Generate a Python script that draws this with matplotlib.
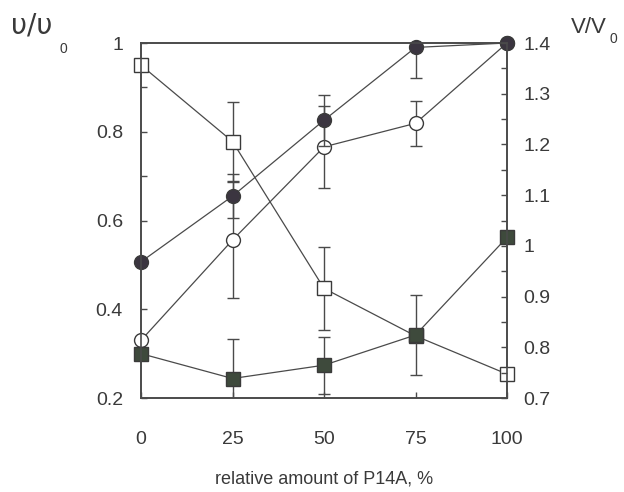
import matplotlib
matplotlib.use("Agg")
import matplotlib.pyplot as plt
from matplotlib.ticker import MultipleLocator, FuncFormatter

plt.rcParams['font.family'] = ['Liberation Sans', 'DejaVu Sans']

x = [0, 25, 50, 75, 100]
filled_circles = [0.507, 0.655, 0.826, 0.99, 1.0]
filled_circles_err = [0, 0.05, 0.057, 0.068, 0]
open_circles = [0.33, 0.556, 0.766, 0.819, 1.0]
open_circles_err = [0, 0.13, 0.093, 0.05, 0]
open_squares = [0.95, 0.778, 0.447, 0.34, 0.254]
open_squares_err = [0, 0.088, 0.094, 0, 0]
filled_squares = [0.30, 0.244, 0.274, 0.342, 0.562]
filled_squares_err = [0, 0.09, 0.064, 0.09, 0]

left_ticks = [0.2, 0.4, 0.6, 0.8, 1.0]
right_ticks = [0.7, 0.8, 0.9, 1.0, 1.1, 1.2, 1.3, 1.4]
x_ticks = [0, 25, 50, 75, 100]

txt = '#3a3a3a'
lc = '#4a4a4a'

fig = plt.figure(figsize=(6.24, 4.92), dpi=100)
ax = fig.add_axes([0.226, 0.191, 0.5865, 0.7216])
ax.set_xlim(0, 100)
ax.set_ylim(0.2, 1.0)

series = [
    (open_squares, open_squares_err, 's', 'white', 9.5),
    (open_circles, open_circles_err, 'o', 'white', 10),
    (filled_circles, filled_circles_err, 'o', '#3b3540', 10),
    (filled_squares, filled_squares_err, 's', '#3e4a3c', 9.5),
]
z = 3
for vals, err, mk, fc, ms in series:
    ax.errorbar(x, vals, yerr=err, fmt='none', ecolor=lc, elinewidth=1.0,
                capsize=4, capthick=1.0, zorder=z)
    ax.plot(x, vals, color=lc, lw=0.9, marker=mk, ms=ms, mfc=fc, mec='#3a3a3a',
            mew=1.0, clip_on=False, zorder=z + 0.5)
    z += 1

for s in ax.spines.values():
    s.set_color('#4a4a4a')
    s.set_linewidth(1.2)

ax.set_xticks(x_ticks)
ax.set_yticks(left_ticks)
ax.yaxis.set_minor_locator(MultipleLocator(0.1))
ax.yaxis.set_major_formatter(FuncFormatter(lambda v, p: '%g' % round(v, 2)))
ax.tick_params(axis='both', which='both', direction='in', length=4, width=1,
               colors='#4a4a4a', labelcolor=txt, labelsize=14)
ax.tick_params(axis='y', which='major', pad=13)
ax.tick_params(axis='x', which='major', pad=24)

ax2 = ax.twinx()
ax2.set_ylim(0.7, 1.4)
ax2.set_yticks(right_ticks)
ax2.yaxis.set_minor_locator(MultipleLocator(0.05))
ax2.yaxis.set_major_formatter(FuncFormatter(lambda v, p: '%g' % round(v, 2)))
ax2.tick_params(axis='y', which='both', direction='in', length=4, width=1,
                colors='#4a4a4a', labelcolor=txt, labelsize=14)
ax2.tick_params(axis='y', which='major', pad=12)
for s in ax2.spines.values():
    s.set_color('#4a4a4a')
    s.set_linewidth(1.2)

ax.set_xlabel('relative amount of P14A, %', fontsize=13, color=txt, labelpad=16)

fig.text(11/624, 1 - 34/492, 'υ/υ', fontsize=20, color=txt, ha='left', va='baseline',
         family=['DejaVu Sans'])
fig.text(59/624, 1 - 53/492, '0', fontsize=10, color=txt, ha='left', va='baseline')
fig.text(571/624, 1 - 33/492, 'V/V', fontsize=16, color=txt, ha='left', va='baseline')
fig.text(610/624, 1 - 43/492, '0', fontsize=10, color=txt, ha='left', va='baseline')

fig.savefig('out.png', dpi=100)
